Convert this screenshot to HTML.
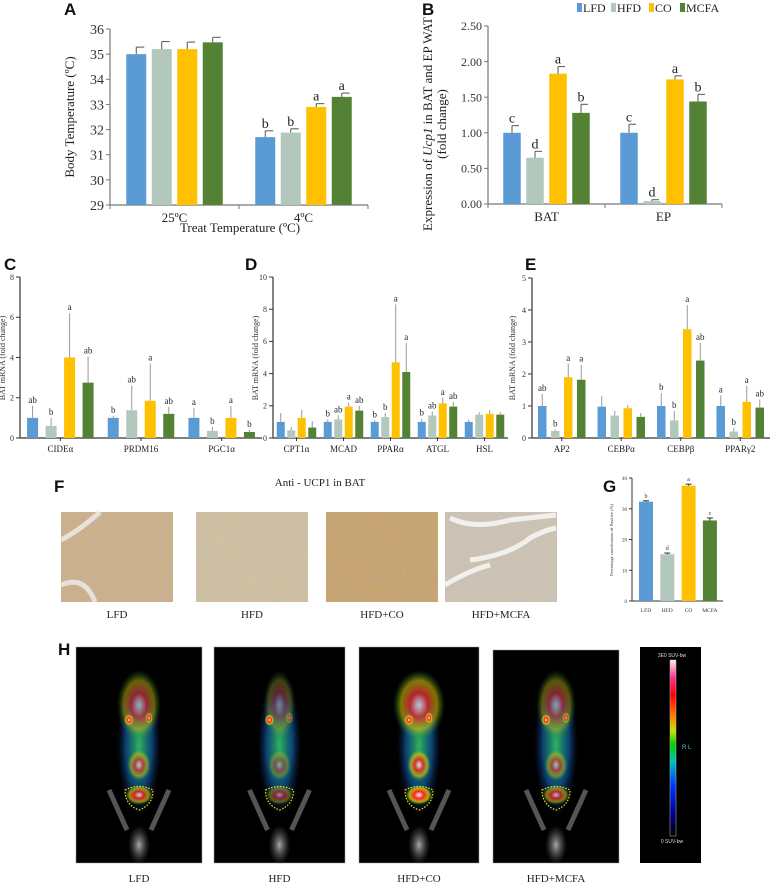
<!DOCTYPE html>
<html><head><meta charset="utf-8">
<style>
html,body{margin:0;padding:0;background:#fff;}
svg{display:block;font-family:"Liberation Serif",serif;}
.lt{font-family:"Liberation Sans",sans-serif;font-weight:bold;font-size:17px;}
</style></head>
<body>
<svg id="fig" width="774" height="885" viewBox="0 0 774 885" xmlns="http://www.w3.org/2000/svg">
<defs>
<filter id="tex" x="0" y="0" width="100%" height="100%"><feTurbulence type="fractalNoise" baseFrequency="0.35" numOctaves="2" seed="3"/><feColorMatrix type="matrix" values="0 0 0 0 0.45  0 0 0 0 0.45  0 0 0 0 0.7  0 0 0 -2.2 1.1"/></filter>
<linearGradient id="cbar" x1="0" y1="1" x2="0" y2="0">
<stop offset="0" stop-color="#000"/><stop offset="0.12" stop-color="#000080"/><stop offset="0.28" stop-color="#0030ff"/><stop offset="0.42" stop-color="#00c0c0"/><stop offset="0.52" stop-color="#00d000"/><stop offset="0.6" stop-color="#d0e000"/><stop offset="0.68" stop-color="#ff8000"/><stop offset="0.8" stop-color="#ff0000"/><stop offset="0.9" stop-color="#ff3090"/><stop offset="1" stop-color="#fff0f0"/>
</linearGradient>
<radialGradient id="blob"><stop offset="0" stop-color="#30c060" stop-opacity="0.95"/><stop offset="0.6" stop-color="#1060a0" stop-opacity="0.7"/><stop offset="1" stop-color="#102060" stop-opacity="0"/></radialGradient>
<radialGradient id="hot"><stop offset="0" stop-color="#ffffff"/><stop offset="0.35" stop-color="#ff2020"/><stop offset="0.7" stop-color="#e0d000" stop-opacity="0.8"/><stop offset="1" stop-color="#20a040" stop-opacity="0"/></radialGradient>
<radialGradient id="bone"><stop offset="0" stop-color="#aaa"/><stop offset="1" stop-color="#555" stop-opacity="0"/></radialGradient>
</defs>
<g id="root"></g>
</svg>
<script>
const COLORS = ['#5b9bd5', '#b3c8bd', '#ffc000', '#548235'];
const SERIES = ['LFD', 'HFD', 'CO', 'MCFA'];

// Panel A
const aCats = ['25ºC', '4ºC'];
const aVals = [[35.0, 35.2, 35.2, 35.47], [31.7, 31.88, 32.9, 33.3]];
const aErr = [[0.28, 0.3, 0.28, 0.2], [0.25, 0.15, 0.13, 0.15]];
const aSig = [['', '', '', ''], ['b', 'b', 'a', 'a']];
const aTicks = [29, 30, 31, 32, 33, 34, 35, 36];
// Panel B
const bCats = ['BAT', 'EP'];
const bVals = [[1.0, 0.65, 1.83, 1.28], [1.0, 0.04, 1.75, 1.44]];
const bErr = [[0.1, 0.09, 0.1, 0.12], [0.12, 0.02, 0.05, 0.1]];
const bSig = [['c', 'd', 'a', 'b'], ['c', 'd', 'a', 'b']];
const bTicks = [0, 0.5, 1.0, 1.5, 2.0, 2.5];
// Panel C
const cCats = ['CIDEα', 'PRDM16', 'PGC1α'];
const cVals = [[1.0, 0.6, 4.0, 2.75], [1.0, 1.38, 1.85, 1.2], [1.0, 0.35, 1.0, 0.3]];
const cErr = [[0.6, 0.4, 2.2, 1.3], [0.1, 1.22, 1.85, 0.35], [0.48, 0.2, 0.6, 0.1]];
const cSig = [['ab', 'b', 'a', 'ab'], ['b', 'ab', 'a', 'ab'], ['a', 'b', 'a', 'b']];
const cTicks = [0, 2, 4, 6, 8];
// Panel D
const dCats = ['CPT1α', 'MCAD', 'PPARα', 'ATGL', 'HSL'];
const dVals = [[1.0, 0.48, 1.25, 0.65], [1.0, 1.15, 1.95, 1.7], [1.0, 1.3, 4.7, 4.1], [1.0, 1.4, 2.15, 1.95], [1.0, 1.45, 1.5, 1.45]];
const dErr = [[0.55, 0.2, 0.5, 0.4], [0.15, 0.25, 0.25, 0.3], [0.1, 0.25, 3.6, 1.8], [0.2, 0.25, 0.35, 0.3], [0.15, 0.15, 0.25, 0.15]];
const dSig = [['', '', '', ''], ['b', 'ab', 'a', 'ab'], ['b', 'b', 'a', 'a'], ['b', 'ab', 'a', 'ab'], ['', '', '', '']];
const dTicks = [0, 2, 4, 6, 8, 10];
// Panel E
const eCats = ['AP2', 'CEBPα', 'CEBPβ', 'PPARγ2'];
const eVals = [[1.0, 0.22, 1.9, 1.82], [0.98, 0.7, 0.93, 0.66], [1.0, 0.55, 3.4, 2.42], [1.0, 0.2, 1.13, 0.95]];
const eErr = [[0.38, 0.05, 0.42, 0.47], [0.33, 0.15, 0.1, 0.12], [0.4, 0.3, 0.75, 0.55], [0.33, 0.12, 0.5, 0.25]];
const eSig = [['ab', 'b', 'a', 'a'], ['', '', '', ''], ['b', 'b', 'a', 'ab'], ['a', 'b', 'a', 'ab']];
const eTicks = [0, 1, 2, 3, 4, 5];
// Panel G
const gCats = ['LFD', 'HFD', 'CO', 'MCFA'];
const gVals = [32.3, 15.2, 37.5, 26.2];
const gErr = [0.3, 0.4, 0.5, 0.8];
const gSig = ['b', 'd', 'a', 'c'];
const gTicks = [0, 10, 20, 30, 40];

const NS = 'http://www.w3.org/2000/svg';
const root = document.getElementById('root');
function mk(tag, attrs, parent, text) {
  const e = document.createElementNS(NS, tag);
  for (const k in attrs) e.setAttribute(k, attrs[k]);
  if (text !== undefined) e.textContent = text;
  (parent || root).appendChild(e);
  return e;
}

function chart(c) {
  const g = mk('g', {});
  
  
  const y = v => c.yBot - (v - c.min) / (c.max - c.min) * (c.yBot - c.yTop);
  const n = c.cats.length;
  const gw = (c.x1 - c.x0) / n;
  const cx = i => c.x0 + (i + 0.5) * gw;
  const ax = mk('line', {x1: c.x0, y1: c.yTop, x2: c.x0, y2: c.yBot, stroke: c.axc, 'stroke-width': 1.2}, g);
  
  
  const xa = mk('line', {x1: c.x0, y1: c.yBot, x2: c.x1, y2: c.yBot, stroke: c.axc, 'stroke-width': 1.2}, g);
  
  
  c.ticks.forEach(t => {
    mk('line', {x1: c.x0 - 4, y1: y(t), x2: c.x0, y2: y(t), stroke: c.axc}, g);
    const tl = mk('text', {x: c.x0 - 6, y: y(t) + c.fs * 0.35, 'font-size': c.fs, 'text-anchor': 'end', fill: '#333'}, g, c.fmt(t));
    
    
  });
  for (let i = 0; i <= n; i++) {
    if (c.sepTicks) mk('line', {x1: c.x0 + i * gw, y1: c.yBot, x2: c.x0 + i * gw, y2: c.yBot + 4, stroke: c.axc}, g);
  }
  c.cats.forEach((cat, i) => {
    if (!c.sepTicks) mk('line', {x1: cx(i), y1: c.yBot, x2: cx(i), y2: c.yBot + 3, stroke: c.axc}, g);
    const lbl = mk('text', {x: cx(i), y: c.yBot + c.labDy, 'font-size': c.lfs, 'text-anchor': 'middle', fill: '#222'}, g, cat);
    
    
    const vals = c.vals[i];
    vals.forEach((v, s) => {
      const bx = cx(i) + (s - 1.5) * c.pitch;
      const top = y(v);
      const r = mk('rect', {x: bx - c.bw / 2, y: top, width: c.bw, height: c.yBot - top, fill: COLORS[s]}, g);
      
      
      const e = c.errs[i][s];
      const et = y(v + e);
      mk('line', {x1: bx, y1: top, x2: bx, y2: et, stroke: c.erc, 'stroke-width': 1}, g);
      mk('line', {x1: bx, y1: et, x2: bx + c.cap, y2: et, stroke: c.erc, 'stroke-width': 1}, g);
      if (c.sig[i][s]) {
        const st = mk('text', {x: bx, y: et - 3, 'font-size': c.sfs, 'text-anchor': 'middle', fill: '#222'}, g, c.sig[i][s]);
        
        
      }
    });
  });
  return g;
}

chart({name: 'chart-a-body-temperature', cats: aCats, vals: aVals, errs: aErr, sig: aSig, ticks: aTicks, min: 29, max: 36,
  x0: 110, x1: 368, yTop: 29, yBot: 205, pitch: 25.5, bw: 20, cap: 8, fs: 14, lfs: 13, sfs: 14, labDy: 17, axc: '#777', erc: '#555', sepTicks: true, fmt: t => String(t)});
chart({name: 'chart-b-ucp1-expression', cats: bCats, vals: bVals, errs: bErr, sig: bSig, ticks: bTicks, min: 0, max: 2.5,
  x0: 488, x1: 722, yTop: 26, yBot: 204, pitch: 23, bw: 17.5, cap: 7, fs: 12, lfs: 13, sfs: 14, labDy: 17, axc: '#777', erc: '#555', sepTicks: true, fmt: t => t.toFixed(2)});
chart({name: 'chart-c-bat-mrna', cats: cCats, vals: cVals, errs: cErr, sig: cSig, ticks: cTicks, min: 0, max: 8,
  x0: 20, x1: 262, yTop: 277, yBot: 438, pitch: 18.5, bw: 11, cap: 0, fs: 8, lfs: 9, sfs: 9, labDy: 14, axc: '#333', erc: '#999', sepTicks: false, fmt: t => String(t)});
chart({name: 'chart-d-bat-mrna', cats: dCats, vals: dVals, errs: dErr, sig: dSig, ticks: dTicks, min: 0, max: 10,
  x0: 273, x1: 508, yTop: 277, yBot: 438, pitch: 10.5, bw: 8, cap: 0, fs: 8, lfs: 9, sfs: 9, labDy: 14, axc: '#333', erc: '#999', sepTicks: false, fmt: t => String(t)});
chart({name: 'chart-e-bat-mrna', cats: eCats, vals: eVals, errs: eErr, sig: eSig, ticks: eTicks, min: 0, max: 5,
  x0: 532, x1: 770, yTop: 278, yBot: 438, pitch: 13, bw: 8.5, cap: 0, fs: 8, lfs: 9, sfs: 9, labDy: 14, axc: '#333', erc: '#999', sepTicks: false, fmt: t => String(t)});
(function () {
  const g = mk('g', {});
  
  
  const x0 = 632, x1 = 723, yTop = 478, yBot = 601, mx = 40;
  const y = v => yBot - v / mx * (yBot - yTop);
  mk('line', {x1: x0, y1: yTop, x2: x0, y2: yBot, stroke: '#333'}, g);
  mk('line', {x1: x0, y1: yBot, x2: x1, y2: yBot, stroke: '#333'}, g);
  gTicks.forEach(t => {
    mk('line', {x1: x0 - 3, y1: y(t), x2: x0, y2: y(t), stroke: '#333'}, g);
    mk('text', {x: x0 - 5, y: y(t) + 2, 'font-size': 5, 'text-anchor': 'end', fill: '#333'}, g, String(t));
  });
  gCats.forEach((cat, i) => {
    const cx = x0 + 14 + i * 21.3;
    const r = mk('rect', {x: cx - 7, y: y(gVals[i]), width: 14, height: yBot - y(gVals[i]), fill: COLORS[i]}, g);
    
    
    const et = y(gVals[i] + gErr[i]);
    mk('line', {x1: cx, y1: y(gVals[i]), x2: cx, y2: et, stroke: '#333'}, g);
    mk('line', {x1: cx - 3, y1: et, x2: cx + 3, y2: et, stroke: '#333'}, g);
    mk('text', {x: cx, y: et - 3, 'font-size': 6, 'text-anchor': 'middle', fill: '#333'}, g, gSig[i]);
    mk('text', {x: cx, y: yBot + 11, 'font-size': 5.5, 'text-anchor': 'middle', fill: '#333'}, g, cat);
  });
})();
</script>

<script>
(function () {
  const R = document.getElementById('root');
  const NS2 = 'http://www.w3.org/2000/svg';
  function m(tag, a, t) { const e = document.createElementNS(NS2, tag); for (const k in a) e.setAttribute(k, a[k]); if (t !== undefined) e.textContent = t; R.appendChild(e); return e; }
  const letters = [['A', 64, 15], ['B', 422, 15], ['C', 4, 270], ['D', 245, 270], ['E', 525, 270], ['F', 54, 492], ['G', 603, 492], ['H', 58, 655]];
  letters.forEach(l => { const t = m('text', {x: l[1], y: l[2], class: 'lt', fill: '#111'}, l[0]);   });
  let t;
  t = m('text', {x: 0, y: 0, 'font-size': 13, 'text-anchor': 'middle', transform: 'translate(74,117) rotate(-90)', fill: '#222'}, 'Body Temperature (ºC)');
   
  t = m('text', {x: 240, y: 232, 'font-size': 13, 'text-anchor': 'middle', fill: '#222'}, 'Treat Temperature (ºC)');
   
  t = m('text', {x: 0, y: 0, 'font-size': 13, 'text-anchor': 'middle', transform: 'translate(432,124) rotate(-90)', fill: '#222'});
  t.innerHTML = 'Expression of <tspan font-style="italic">Ucp1</tspan> in BAT and EP WAT';
   
  t = m('text', {x: 0, y: 0, 'font-size': 13, 'text-anchor': 'middle', transform: 'translate(446,124) rotate(-90)', fill: '#222'}, '(fold change)');
   
  [[5, 358], [258, 358], [515, 358]].forEach(p => {
    const e = m('text', {x: 0, y: 0, 'font-size': 8, 'text-anchor': 'middle', transform: 'translate(' + p[0] + ',' + p[1] + ') rotate(-90)', fill: '#333'}, 'BAT mRNA (fold change)');
     
  });
  t = m('text', {x: 0, y: 0, 'font-size': 4.5, 'text-anchor': 'middle', transform: 'translate(613,540) rotate(-90)', fill: '#333'}, 'Percentage coordination of Positive (%)');
   
  const leg = [['LFD', 577], ['HFD', 611], ['CO', 649], ['MCFA', 680]];
  leg.forEach((l, i) => {
    const r = m('rect', {x: l[1], y: 3, width: 5, height: 9, fill: ['#5b9bd5', '#b3c8bd', '#ffc000', '#548235'][i]});
     
    const e = m('text', {x: l[1] + 6, y: 12, 'font-size': 12, fill: '#222'}, l[0]);
     
  });
  t = m('text', {x: 320, y: 486, 'font-size': 11, 'text-anchor': 'middle', fill: '#222'}, 'Anti - UCP1 in BAT');
   
  const ihc = [[61, '#cbb08a', 'LFD'], [196, '#cfc0a0', 'HFD'], [326, '#c8a46f', 'HFD+CO'], [445, '#cdc3b2', 'HFD+MCFA']];
  ihc.forEach(p => {
    const r = m('rect', {x: p[0], y: 512, width: 112, height: 90, fill: p[1]});
     
    m('rect', {x: p[0], y: 512, width: 112, height: 90, filter: 'url(#tex)', opacity: 0.5});
    const e = m('text', {x: p[0] + 56, y: 618, 'font-size': 11, 'text-anchor': 'middle', fill: '#222'}, p[2]);
     
  });
  m('path', {d: 'M61 540 Q80 530 100 512 M61 585 Q85 575 95 602', stroke: '#eee', 'stroke-width': 5, fill: 'none', opacity: 0.8});
  m('path', {d: 'M450 518 Q475 530 510 520 L556 515 M470 560 Q510 555 530 538 Q545 530 556 528 M445 585 Q470 570 490 565', stroke: '#f2f0ec', 'stroke-width': 5, fill: 'none'});
  const pet = [[76, 126, 647, 'LFD', 0.8], [214, 131, 647, 'HFD', 0.5], [359, 120, 647, 'HFD+CO', 1.0], [493, 126, 650, 'HFD+MCFA', 0.7]];
  pet.forEach(p => {
    const x = p[0], w = p[1], y0 = p[2], cx = x + w / 2;
    const r = m('rect', {x: x, y: y0, width: w, height: 863 - y0, fill: '#000', stroke: '#999', 'stroke-width': 0.5});
     
    m('ellipse', {cx: cx, cy: 845, rx: 11, ry: 20, fill: 'url(#bone)'});
    m('path', {d: 'M' + (cx - 30) + ' 790 L' + (cx - 12) + ' 830 M' + (cx + 30) + ' 790 L' + (cx + 12) + ' 830', stroke: '#555', 'stroke-width': 5});
    m('ellipse', {cx: cx, cy: 745, rx: 22, ry: 72, fill: 'url(#blob)'});
    m('ellipse', {cx: cx, cy: 705, rx: 20 * p[4] + 6, ry: 35, fill: 'url(#hot)', opacity: p[4] * 0.7});
    m('ellipse', {cx: cx - 10, cy: 720, rx: 5, ry: 6, fill: 'url(#hot)'});
    m('ellipse', {cx: cx + 10, cy: 718, rx: 4, ry: 6, fill: 'url(#hot)', opacity: p[4]});
    m('ellipse', {cx: cx, cy: 765, rx: 12, ry: 16, fill: 'url(#hot)', opacity: p[4] * 0.8});
    m('ellipse', {cx: cx, cy: 795, rx: 14, ry: 10, fill: 'url(#hot)', opacity: p[4]});
    m('path', {d: 'M' + (cx - 14) + ' 790 Q' + cx + ' 783 ' + (cx + 14) + ' 790 Q' + (cx + 14) + ' 805 ' + cx + ' 810 Q' + (cx - 14) + ' 805 ' + (cx - 14) + ' 790 Z', fill: 'none', stroke: '#ffe000', 'stroke-width': 1.2, 'stroke-dasharray': '1.5,1.5'});
    const e = m('text', {x: cx, y: 882, 'font-size': 11, 'text-anchor': 'middle', fill: '#222'}, p[3]);
     
  });
  const cb = m('rect', {x: 640, y: 647, width: 61, height: 216, fill: '#000'});
   
  const cg = m('rect', {x: 670, y: 660, width: 6, height: 176, fill: 'url(#cbar)', stroke: '#bbb', 'stroke-width': 0.5});
   
  m('text', {x: 672, y: 657, 'font-size': 5, 'text-anchor': 'middle', fill: '#ddd', 'font-family': 'Liberation Sans, sans-serif'}, '3E0 SUV-bw');
  m('text', {x: 672, y: 843, 'font-size': 5, 'text-anchor': 'middle', fill: '#ddd', 'font-family': 'Liberation Sans, sans-serif'}, '0 SUV-bw');
  m('text', {x: 682, y: 749, 'font-size': 6, fill: '#4cd', 'font-family': 'Liberation Sans, sans-serif'}, 'R  L');
})();
</script>
</body></html>
